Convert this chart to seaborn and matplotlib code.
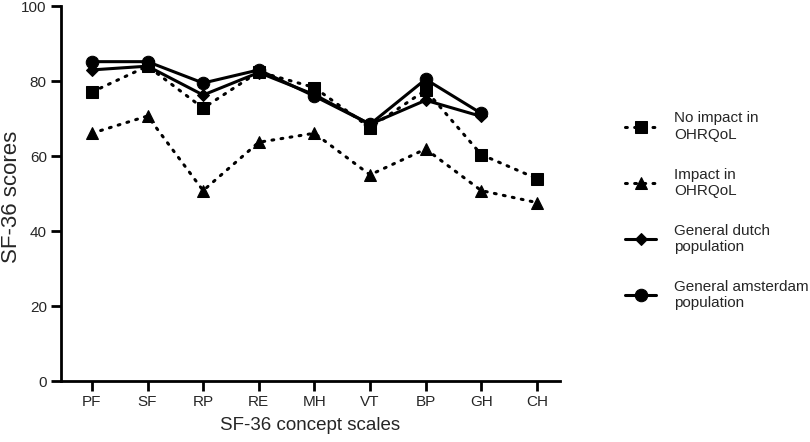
import numpy as np
import pandas as pd
import matplotlib
matplotlib.use("Agg")
import matplotlib.pyplot as plt
import seaborn as sns

scales = ["PF", "SF", "RP", "RE", "MH", "VT", "BP", "GH", "CH"]
no_impact = [77.1, 84.0, 72.8, 82.5, 78.3, 67.6, 77.6, 60.4, 54.0]
impact = [66.1, 70.7, 50.8, 63.7, 66.1, 55.0, 61.9, 50.8, 47.6]
dutch = [83.0, 84.0, 76.3, 82.3, 76.4, 68.5, 74.9, 70.6]
amsterdam = [85.2, 85.2, 79.5, 83.0, 76.0, 68.5, 80.5, 71.4]

sns.set_style("ticks")
plt.rcParams["font.family"] = ["Liberation Sans", "DejaVu Sans"]

fig = plt.figure(figsize=(8.1, 4.42), dpi=100)
ax = fig.add_axes([0.075, 0.138, 0.616, 0.848])

series = [
    ("No impact in\nOHRQoL", no_impact, "s", (0, (0.6, 2.4))),
    ("Impact in\nOHRQoL", impact, "^", (0, (0.6, 2.4))),
    ("General dutch\npopulation", dutch, "D", "-"),
    ("General amsterdam\npopulation", amsterdam, "o", "-"),
]
for name, vals, mk, ls in series:
    x = np.arange(len(vals))
    sns.lineplot(x=x, y=vals, ax=ax, color="black", marker=mk, linestyle=ls,
                 linewidth=2.2, markersize=9 if mk != "D" else 6.5,
                 markeredgecolor="black", dash_capstyle="round", label=name)

ax.set_xlim(-0.56, 8.41)
ax.set_ylim(0, 100)
ax.set_yticks([0, 20, 40, 60, 80, 100])
ax.set_xticks(range(len(scales)))
ax.set_xticklabels(scales)
ax.set_xlabel("SF-36 concept scales", fontsize=13.5, labelpad=6)
ax.set_ylabel("SF-36 scores", fontsize=16)
ax.yaxis.set_label_coords(-0.078, 0.49)
ax.tick_params(labelsize=11, width=2, length=7, color="black", pad=3)
for s in ["left", "bottom"]:
    ax.spines[s].set_linewidth(2)
    ax.spines[s].set_color("black")
sns.despine(ax=ax)

ax.legend(loc="upper left", bbox_to_anchor=(0.772, 0.748),
          bbox_transform=fig.transFigure, frameon=False, borderpad=0,
          borderaxespad=0, fontsize=11, handlelength=2.0,
          labelspacing=1.7, handletextpad=1.2)

fig.savefig("out.png", dpi=100)
